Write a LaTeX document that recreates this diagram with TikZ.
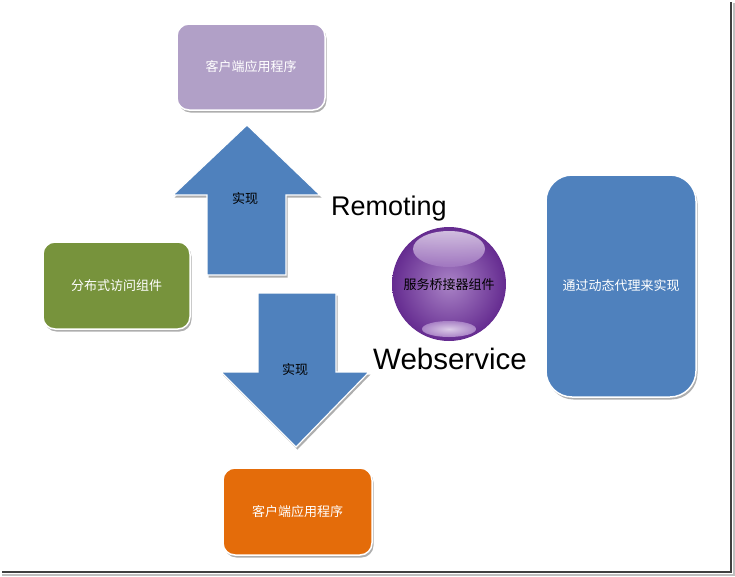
\documentclass[tikz,border=0pt]{standalone}
\usepackage{fontspec}
\setmainfont{Liberation Sans}
\newfontfamily\cjk{Noto Sans CJK SC}
\usetikzlibrary{shadows,shapes.geometric}
\definecolor{boxpurple}{HTML}{B1A0C7}
\definecolor{boxgreen}{HTML}{77933C}
\definecolor{boxorange}{HTML}{E46C0A}
\definecolor{boxblue}{HTML}{4F81BD}
\definecolor{ballpurple}{HTML}{7030A0}
\tikzset{
  rbox/.style={draw=white, line width=1.5pt, rounded corners=12pt,
    drop shadow={shadow xshift=1.5pt, shadow yshift=-2.5pt, opacity=0.45, fill=black!70}},
  boxtext/.style={font=\cjk\fontsize{13}{15}\selectfont, text=white},
  arrowshape/.style={fill=boxblue, draw=white, line width=1.2pt, line join=miter,
    drop shadow={shadow xshift=1.5pt, shadow yshift=-2.5pt, opacity=0.45, fill=black!70}},
  arrowlabel/.style={font=\cjk\fontsize{13}{15}\selectfont, text=black},
  bigword/.style={font=\fontsize{27}{30}\selectfont, text=black, inner sep=0pt},
}
\begin{document}
\begin{tikzpicture}[x=1pt,y=-1pt]
\useasboundingbox (0,0) rectangle (735,576);
% frame
\fill[black!25] (733,3) rectangle (735,576);
\fill[black!25] (2,574) rectangle (735,576);
\draw[black!75, line width=1.6pt] (2,572) -- (731,572) -- (731,2);

% boxes
\path[rbox, fill=boxpurple] (177,24) rectangle (325,110);
\node[boxtext] (top) at (251,67) {客户端应用程序};
\path[rbox, fill=boxgreen] (43,242) rectangle (190,329);
\node[boxtext] (left) at (116.5,285.5) {分布式访问组件};
\path[rbox, fill=boxorange] (223,468) rectangle (372,555);
\node[boxtext] (bottom) at (297.5,511.5) {客户端应用程序};
\path[rbox, fill=boxblue, rounded corners=26pt] (546,175) rectangle (696,397);
\node[boxtext] (right) at (621,286) {通过动态代理来实现};

% up arrow
\path[arrowshape] (247,125) -- (320,195) -- (286,195) -- (286,275) -- (207,275) -- (207,195) -- (173,195) -- cycle;
\node[arrowlabel] (uplabel) at (245,199) {实现};
% down arrow
\path[arrowshape] (258,293) -- (336,293) -- (336,372) -- (369,372) -- (296,447) -- (221,372) -- (258,372) -- cycle;
\node[arrowlabel] (downlabel) at (295,370) {实现};

% ball
\shade[inner color=ballpurple!60!white, outer color=ballpurple!90!black] (449,284) circle[radius=57];
\shade[top color=white!80!ballpurple, bottom color=ballpurple!65!white, opacity=0.85] (449,249) ellipse[x radius=36, y radius=18];
\shade[inner color=ballpurple!25!white, outer color=ballpurple!60!white] (449,329) ellipse[x radius=27, y radius=8];
\node[arrowlabel] (ball) at (449,285) {服务桥接器组件};

% words
\node[bigword, anchor=base west] (remoting) at (331,215) {Remoting};
\node[bigword, anchor=base west, font=\fontsize{29.5}{32}\selectfont] (websvc) at (373,369) {Webservice};
\end{tikzpicture}
\end{document}
